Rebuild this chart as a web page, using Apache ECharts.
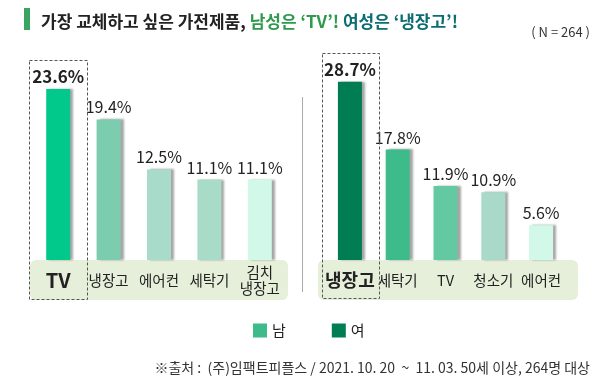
<!DOCTYPE html>
<html><head><meta charset="utf-8">
<script src="https://cdn.jsdelivr.net/npm/echarts@6/dist/echarts.min.js"></script>
<style>html,body{margin:0;padding:0;background:#fff}#c{width:600px;height:381px}</style>
</head><body><div id="c"></div>
<script>
const maleCats = ['TV', '냉장고', '에어컨', '세탁기', '김치\n냉장고'];
const maleVals = [23.6, 19.4, 12.5, 11.1, 11.1];
const maleColors = ['#00c98b', '#7ccdb0', '#a8dbc9', '#a9dbc9', '#d1f8e8'];
const femaleCats = ['냉장고', '세탁기', 'TV', '청소기', '에어컨'];
const femaleVals = [28.7, 17.8, 11.9, 10.9, 5.6];
const femaleColors = ['#007d52', '#3dbb8b', '#63c9a2', '#a9dac9', '#d1f8e8'];
const FONT = '"Noto Sans CJK KR", "Noto Sans", sans-serif';

const chart = echarts.init(document.getElementById('c'), null, {renderer: 'canvas'});

function mkData(vals, colors) {
  return vals.map((v, i) => ({
    value: v,
    itemStyle: {color: colors[i]},
    label: i === 0 ? {fontSize: 17, fontWeight: 'bold', distance: 4} : {}
  }));
}
function catLabel(bigSize) {
  return {
    interval: 0, margin: 20, verticalAlign: 'middle', fontFamily: FONT,
    fontSize: 14.5, color: '#222', lineHeight: 16,
    formatter: (v, i) => i === 0 ? '{big|' + v + '}' : v,
    rich: {big: {fontSize: bigSize, fontWeight: 'bold', color: '#222', fontFamily: FONT}}
  };
}
const barShadow = {shadowColor: 'rgba(0,0,0,0.35)', shadowOffsetX: 3, shadowOffsetY: 0, shadowBlur: 2};
const valLabel = {show: true, position: 'top', distance: 4, formatter: p => p.value.toFixed(1) + '%', fontSize: 16, color: '#222', fontFamily: FONT};

chart.setOption({
  animation: false,
  textStyle: {fontFamily: FONT},
  title: {
    left: 36, top: 8,
    text: '{a|가장 교체하고 싶은 가전제품, }{b|남성은 ‘TV’! }{c|여성은 ‘냉장고’!}',
    textStyle: {
      rich: {
        a: {fontSize: 17, fontWeight: 'bold', color: '#222', fontFamily: FONT},
        b: {fontSize: 17, fontWeight: 'bold', color: '#2e9a4d', fontFamily: FONT},
        c: {fontSize: 17, fontWeight: 'bold', color: '#0d6e72', fontFamily: FONT}
      }
    }
  },
  legend: {
    left: 248, top: 318, itemWidth: 14, itemHeight: 14, itemGap: 46,
    icon: 'rect',
    textStyle: {fontSize: 15, color: '#222', fontFamily: FONT},
    data: ['남', '여']
  },
  grid: [
    {left: 33, width: 252, top: 60, height: 200},
    {left: 326, width: 239, top: 60, height: 200}
  ],
  xAxis: [
    {type: 'category', gridIndex: 0, data: maleCats, axisLine: {show: false}, axisTick: {show: false}, axisLabel: catLabel(20), z: 10},
    {type: 'category', gridIndex: 1, data: femaleCats, axisLine: {show: false}, axisTick: {show: false}, axisLabel: catLabel(18), z: 10}
  ],
  yAxis: [
    {type: 'value', gridIndex: 0, min: 0, max: 27.6, show: false, splitLine: {show: false}},
    {type: 'value', gridIndex: 1, min: 0, max: 32.2, show: false, splitLine: {show: false}}
  ],
  series: [
    {
      name: '남', type: 'bar', xAxisIndex: 0, yAxisIndex: 0, barWidth: 24,
      itemStyle: Object.assign({color: '#3dbb8b'}, barShadow),
      label: valLabel,
      data: mkData(maleVals, maleColors), z: 5
    },
    {
      name: '여', type: 'bar', xAxisIndex: 1, yAxisIndex: 1, barWidth: 24,
      itemStyle: Object.assign({color: '#007d52'}, barShadow),
      label: valLabel,
      data: mkData(femaleVals, femaleColors), z: 5
    }
  ],
  graphic: [
    {type: 'rect', left: 24, top: 8, shape: {width: 6, height: 22}, style: {fill: '#3aa563'}},
    {type: 'text', right: 10, top: 26, style: {text: '( N = 264 )', fontSize: 13, fill: '#333', fontFamily: FONT}},
    {type: 'rect', z: -1, shape: {x: 30, y: 260, width: 258, height: 40, r: 6}, style: {fill: '#e6efda'}},
    {type: 'rect', z: -1, shape: {x: 318, y: 260, width: 260, height: 40, r: 6}, style: {fill: '#e6efda'}},
    {type: 'rect', z: 20, shape: {x: 29.5, y: 60.5, width: 58, height: 239}, style: {fill: 'none', stroke: '#555', lineWidth: 1, lineDash: [3, 2]}},
    {type: 'rect', z: 20, shape: {x: 322.5, y: 53.5, width: 57, height: 245}, style: {fill: 'none', stroke: '#555', lineWidth: 1, lineDash: [3, 2]}},
    {type: 'line', shape: {x1: 302.5, y1: 97, x2: 302.5, y2: 292}, style: {stroke: '#aaa', lineWidth: 1}},
    {type: 'text', right: 10, top: 361, style: {text: '※출처 :  (주)임팩트피플스 / 2021. 10. 20  ~  11. 03. 50세 이상, 264명 대상', fontSize: 14, fill: '#333', fontFamily: FONT}}
  ]
});
</script></body></html>
